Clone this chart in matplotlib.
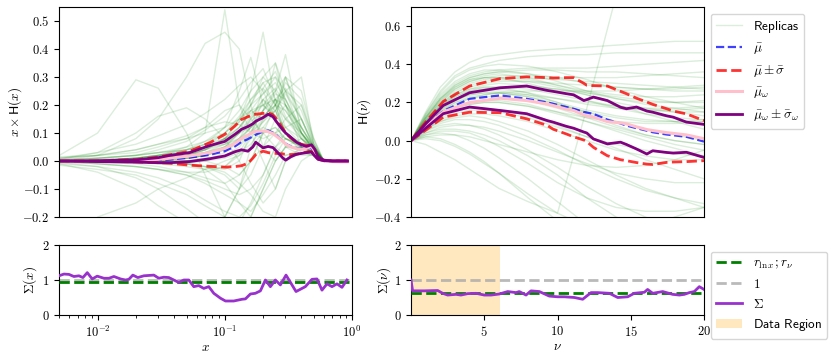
import numpy as np
import matplotlib
matplotlib.use("Agg")
import matplotlib.pyplot as plt
from matplotlib.ticker import FuncFormatter, FixedLocator, LogLocator, NullFormatter

plt.rcParams['mathtext.fontset'] = 'cm'
plt.rcParams['font.family'] = ['DejaVu Sans']

# ---------------- data: left panel (x space) ----------------
x_mean = [0.005, 0.01, 0.02, 0.03, 0.037, 0.053, 0.076, 0.1, 0.12, 0.135, 0.152, 0.166, 0.175,
          0.2, 0.219, 0.239, 0.255, 0.287, 0.301, 0.33, 0.366, 0.4, 0.438, 0.48, 0.509, 0.541,
          0.6, 0.7, 0.8, 0.92]
mu_x = [0, 0, 0.001, 0.003, 0.005, 0.012, 0.022, 0.035, 0.052, 0.068, 0.078, 0.088, 0.094,
        0.105, 0.109, 0.101, 0.092, 0.070, 0.062, 0.052, 0.046, 0.044, 0.046, 0.046, 0.030, 0.011,
        0.002, 0, 0, 0]
mu_plus_x = [0, 0.001, 0.005, 0.014, 0.022, 0.035, 0.065, 0.095, 0.125, 0.148, 0.158, 0.165, 0.167,
             0.170, 0.172, 0.165, 0.150, 0.115, 0.100, 0.082, 0.068, 0.060, 0.056, 0.055, 0.040, 0.014,
             0.003, 0, 0, 0]
mu_minus_x = [0, -0.001, -0.003, -0.006, -0.008, -0.015, -0.019, -0.022, -0.020, -0.017, -0.008, 0.010, 0.023,
              0.035, 0.030, 0.028, 0.027, 0.025, 0.024, 0.023, 0.024, 0.028, 0.032, 0.034, 0.020, 0.007,
              0.001, 0, 0, 0]
muw_x = [0, 0, 0.002, 0.006, 0.010, 0.018, 0.030, 0.045, 0.062, 0.080, 0.092, 0.103, 0.106,
         0.107, 0.105, 0.098, 0.088, 0.070, 0.060, 0.050, 0.044, 0.042, 0.045, 0.052, 0.035, 0.012,
         0.002, -0.002, -0.003, -0.003]
muw_plus_x = [0, 0.001, 0.004, 0.012, 0.020, 0.030, 0.055, 0.070, 0.095, 0.113, 0.123, 0.133, 0.142,
              0.155, 0.167, 0.158, 0.140, 0.110, 0.100, 0.085, 0.067, 0.058, 0.052, 0.058, 0.042, 0.015,
              0.003, 0, 0, 0]
muw_minus_x = [0, -0.002, -0.004, -0.006, -0.006, -0.002, 0.008, 0.018, 0.033, 0.040, 0.035, 0.050, 0.067,
               0.047, 0.052, 0.048, 0.035, 0.010, 0.003, 0.015, 0.024, 0.027, 0.030, 0.032, 0.018, 0.006,
               0.001, 0, 0, 0]

x_rep = [0.005, 0.01, 0.02, 0.03, 0.05, 0.07, 0.1, 0.13, 0.16, 0.2, 0.25, 0.3, 0.4, 0.5, 0.6, 0.92]
rep_x = [
    [0.02, 0.10, 0.29, 0.26, 0.10, -0.05, -0.20, -0.25, -0.2, -0.1, 0.0, 0.05, 0.05, 0.03, 0.0, 0.0],
    [0.0, 0.02, 0.08, 0.15, 0.30, 0.42, 0.46, 0.40, 0.20, 0.05, 0.0, 0.05, 0.05, 0.03, 0.0, 0.0],
    [0.0, 0.0, 0.01, 0.02, 0.05, 0.1, 0.54, 0.2, 0.1, 0.0, -0.1, 0.0, 0.05, 0.03, 0.0, 0.0],
    [0.0, 0.0, 0.005, 0.01, 0.02, 0.04, 0.08, 0.15, 0.25, 0.46, 0.2, 0.1, 0.05, 0.03, 0.0, 0.0],
    [0.0, 0.0, 0.0, 0.005, 0.01, 0.02, 0.04, 0.08, 0.12, 0.18, 0.25, 0.38, 0.1, 0.04, 0.0, 0.0],
    [0.0, 0.0, 0.0, 0.01, 0.03, 0.06, 0.12, 0.25, 0.37, 0.2, 0.15, 0.1, 0.06, 0.04, 0.0, 0.0],
    [0.005, 0.03, 0.10, 0.16, 0.19, 0.15, 0.08, 0.0, -0.08, -0.15, -0.1, 0.0, 0.03, 0.02, 0.0, 0.0],
    [-0.005, -0.02, -0.06, -0.10, -0.17, -0.22, -0.2, -0.1, 0.0, 0.1, 0.12, 0.08, 0.05, 0.03, 0.0, 0.0],
    [-0.01, -0.04, -0.10, -0.16, -0.22, -0.25, -0.2, -0.1, 0.05, 0.15, 0.18, 0.1, 0.05, 0.03, 0.0, 0.0],
    [0.01, 0.03, 0.06, 0.09, 0.13, 0.17, 0.22, 0.27, 0.3, 0.25, 0.15, 0.05, 0.02, 0.02, 0.0, 0.0],
    [0.0, 0.01, 0.02, 0.04, 0.07, 0.11, 0.16, 0.22, 0.28, 0.33, 0.22, 0.12, 0.06, 0.04, 0.0, 0.0],
    [0.0, 0.0, 0.01, 0.02, 0.04, 0.07, 0.12, 0.18, 0.25, 0.3, 0.35, 0.2, 0.08, 0.05, 0.0, 0.0],
    [0.0, -0.01, -0.02, -0.03, -0.05, -0.07, -0.1, -0.12, -0.1, -0.05, 0.05, 0.1, 0.06, 0.03, 0.0, 0.0],
    [0.0, 0.0, 0.0, 0.0, 0.01, 0.02, 0.05, 0.1, 0.15, 0.2, 0.25, 0.3, 0.15, 0.05, 0.0, 0.0],
    [0.0, -0.005, -0.01, -0.02, -0.04, -0.06, -0.08, -0.05, 0.0, 0.05, 0.1, 0.15, 0.08, 0.04, 0.0, 0.0],
    [0.015, 0.02, 0.03, 0.05, 0.08, 0.12, 0.18, 0.2, 0.15, 0.1, 0.05, 0.02, 0.03, 0.03, 0.0, 0.0],
    [-0.015, -0.03, -0.05, -0.08, -0.12, -0.16, -0.2, -0.22, -0.15, -0.05, 0.05, 0.08, 0.05, 0.03, 0.0, 0.0],
    [0.0, 0.0, 0.005, 0.01, 0.02, 0.03, 0.05, 0.08, 0.12, 0.16, 0.2, 0.25, 0.3, 0.06, 0.0, 0.0],
    [0.0, 0.0, -0.005, -0.01, -0.02, -0.03, -0.02, 0.02, 0.08, 0.14, 0.18, 0.1, 0.03, 0.02, 0.0, 0.0],
    [0.005, 0.01, 0.02, 0.03, 0.04, 0.05, 0.06, 0.08, 0.1, 0.12, 0.1, 0.08, 0.06, 0.04, 0.0, 0.0],
    [0.0, 0.005, 0.01, 0.02, 0.03, 0.04, 0.06, 0.1, 0.2, 0.28, 0.3, 0.2, 0.05, 0.03, 0.0, 0.0],
    [0.0, 0.0, 0.0, 0.0, -0.01, -0.02, -0.04, -0.08, -0.12, -0.18, -0.2, -0.1, 0.0, 0.03, 0.0, 0.0],
    [0.0, 0.0, 0.0, 0.01, 0.02, 0.04, 0.08, 0.12, 0.18, 0.24, 0.28, 0.22, 0.12, 0.05, 0.0, 0.0],
    [0.01, 0.02, 0.04, 0.06, 0.09, 0.12, 0.14, 0.13, 0.1, 0.08, 0.1, 0.12, 0.08, 0.04, 0.0, 0.0],
    [-0.005, -0.01, -0.02, -0.03, -0.05, -0.08, -0.12, -0.15, -0.18, -0.12, -0.05, 0.02, 0.04, 0.03, 0.0, 0.0],
    [0.0, 0.0, 0.0, 0.005, 0.01, 0.02, 0.04, 0.07, 0.1, 0.15, 0.22, 0.26, 0.18, 0.06, 0.0, 0.0],
    [0.0, 0.0, 0.01, 0.02, 0.03, 0.05, 0.1, 0.16, 0.22, 0.26, 0.2, 0.15, 0.1, 0.05, 0.0, 0.0],
    [-0.35, -0.2, -0.15, -0.1, -0.06, -0.03, 0.0, 0.02, 0.05, 0.1, 0.12, 0.08, 0.05, 0.03, 0.0, 0.0],
    [0.0, 0.0, 0.0, 0.0, 0.0, 0.01, 0.02, 0.05, 0.1, 0.18, 0.35, 0.25, 0.1, 0.05, 0.0, 0.0],
    [0.0, 0.0, 0.0, -0.005, -0.01, -0.02, -0.03, 0.0, 0.1, 0.22, 0.15, 0.3, 0.12, 0.04, 0.0, 0.0],
    [0.0, 0.0, 0.01, 0.02, 0.04, 0.06, 0.1, 0.15, 0.2, 0.24, 0.3, 0.25, 0.15, 0.05, 0.0, 0.0],
    [0.0, 0.0, 0.0, 0.01, 0.02, 0.03, 0.06, 0.1, 0.16, 0.22, 0.18, 0.25, 0.2, 0.06, 0.0, 0.0],
    [0.0, 0.005, 0.01, 0.02, 0.03, 0.05, 0.08, 0.12, 0.18, 0.15, 0.22, 0.18, 0.1, 0.04, 0.0, 0.0],
    [0.0, 0.0, 0.0, 0.0, 0.01, 0.02, 0.04, 0.06, 0.1, 0.14, 0.2, 0.28, 0.22, 0.07, 0.0, 0.0],
    [0.0, 0.01, 0.02, 0.03, 0.05, 0.07, 0.1, 0.14, 0.2, 0.3, 0.25, 0.16, 0.08, 0.04, 0.0, 0.0],
    [0.0, 0.0, -0.005, -0.01, -0.01, 0.0, 0.03, 0.08, 0.15, 0.22, 0.26, 0.2, 0.12, 0.05, 0.0, 0.0],
    [0.0, 0.0, 0.0, 0.005, 0.01, 0.02, 0.05, 0.1, 0.14, 0.18, 0.22, 0.15, 0.2, 0.08, 0.0, 0.0],
    [0.0, -0.01, -0.02, -0.03, -0.04, -0.04, -0.02, 0.03, 0.1, 0.18, 0.24, 0.22, 0.1, 0.04, 0.0, 0.0],
    [0.0, 0.0, 0.0, 0.01, 0.02, 0.04, 0.07, 0.12, 0.17, 0.2, 0.16, 0.12, 0.15, 0.06, 0.0, 0.0],
    [0.0, 0.0, 0.01, 0.01, 0.02, 0.03, 0.05, 0.07, 0.12, 0.26, 0.32, 0.22, 0.1, 0.04, 0.0, 0.0],
    [0.0, 0.0, 0.0, 0.0, 0.0, 0.0, 0.01, 0.03, 0.06, 0.12, 0.18, 0.24, 0.15, 0.05, 0.0, 0.0],
    [0.0, 0.0, 0.0, 0.0, -0.01, -0.02, -0.05, -0.1, -0.05, 0.05, 0.15, 0.2, 0.1, 0.04, 0.0, 0.0],
    [0.0, 0.0, 0.0, 0.0, -0.01, -0.03, -0.08, -0.15, -0.2, -0.1, 0.0, 0.05, 0.08, 0.03, 0.0, 0.0],
    [0.005, 0.01, 0.02, 0.03, 0.04, 0.06, 0.08, 0.1, 0.12, 0.16, 0.2, 0.18, 0.09, 0.04, 0.0, 0.0],
    [0.0, 0.0, 0.005, 0.01, 0.02, 0.04, 0.08, 0.14, 0.22, 0.28, 0.2, 0.1, 0.06, 0.04, 0.0, 0.0],
    [0.0, 0.0, 0.0, 0.0, 0.0, 0.0, -0.02, -0.05, 0.0, 0.1, 0.2, 0.3, 0.25, 0.08, 0.0, 0.0],
    [0.01, 0.02, 0.04, 0.06, 0.08, 0.1, 0.12, 0.15, 0.18, 0.2, 0.22, 0.2, 0.12, 0.05, 0.0, 0.0],
    [-0.01, -0.02, -0.04, -0.06, -0.1, -0.14, -0.18, -0.2, -0.16, -0.08, 0.02, 0.08, 0.06, 0.03, 0.0, 0.0],
]

# ---------------- data: right panel (nu space) ----------------
nu_mean = [0, 1, 2.2, 4.0, 6.1, 7.9, 9.3, 9.7, 10.6, 11.1, 11.8, 12.0, 12.45, 13.4, 14.3, 14.7,
           15.4, 16.1, 16.5, 17.45, 17.9, 18.8, 20]
mu_nu = [0, 0.075, 0.155, 0.219, 0.237, 0.219, 0.200, 0.193, 0.176, 0.167, 0.150, 0.147, 0.140,
         0.110, 0.090, 0.079, 0.065, 0.052, 0.044, 0.032, 0.028, 0.020, -0.005]
mu_plus_nu = [0, 0.097, 0.205, 0.286, 0.325, 0.334, 0.330, 0.328, 0.330, 0.330, 0.300, 0.290, 0.288,
              0.286, 0.258, 0.246, 0.222, 0.202, 0.190, 0.167, 0.155, 0.140, 0.105]
mu_minus_nu = [0, 0.055, 0.123, 0.149, 0.146, 0.114, 0.080, 0.060, 0.035, 0.020, 0.003, -0.005, -0.035,
               -0.079, -0.100, -0.105, -0.115, -0.123, -0.125, -0.114, -0.112, -0.110, -0.105]
muw_nu = [0, 0.072, 0.150, 0.200, 0.222, 0.210, 0.192, 0.184, 0.165, 0.158, 0.135, 0.130, 0.123,
          0.100, 0.093, 0.088, 0.072, 0.058, 0.053, 0.042, 0.038, 0.030, 0.010]
muw_plus_nu = [0, 0.088, 0.184, 0.251, 0.277, 0.286, 0.263, 0.258, 0.246, 0.240, 0.210, 0.215, 0.228,
               0.210, 0.175, 0.167, 0.176, 0.155, 0.149, 0.130, 0.123, 0.097, 0.085]
muw_minus_nu = [0, 0.065, 0.141, 0.176, 0.158, 0.141, 0.105, 0.097, 0.075, 0.065, 0.045, 0.040, 0.009,
                -0.017, -0.008, -0.020, -0.044, -0.070, -0.053, -0.062, -0.065, -0.061, -0.088]

nu_rep = [0, 1, 2, 3, 4, 5, 6, 8, 10, 12, 14, 16, 18, 20]
rep_nu = [
    [0, 0.15, 0.28, 0.36, 0.41, 0.44, 0.45, 0.47, 0.48, 0.49, 0.5, 0.51, 0.52, 0.52],
    [0, 0.14, 0.26, 0.34, 0.38, 0.40, 0.42, 0.44, 0.45, 0.45, 0.46, 0.46, 0.46, 0.46],
    [0, 0.12, 0.22, 0.29, 0.33, 0.35, 0.36, 0.37, 0.37, 0.36, 0.36, 0.35, 0.34, 0.33],
    [0, 0.11, 0.2, 0.26, 0.30, 0.32, 0.33, 0.33, 0.32, 0.31, 0.30, 0.29, 0.28, 0.27],
    [0, 0.1, 0.18, 0.24, 0.27, 0.29, 0.30, 0.29, 0.27, 0.24, 0.2, 0.17, 0.15, 0.13],
    [0, 0.09, 0.16, 0.21, 0.24, 0.25, 0.25, 0.23, 0.19, 0.15, 0.10, 0.06, 0.03, 0.0],
    [0, 0.08, 0.14, 0.18, 0.2, 0.21, 0.21, 0.19, 0.15, 0.1, 0.05, 0.0, -0.04, -0.08],
    [0, 0.07, 0.12, 0.15, 0.17, 0.17, 0.16, 0.13, 0.08, 0.02, -0.04, -0.1, -0.15, -0.2],
    [0, 0.06, 0.1, 0.12, 0.13, 0.12, 0.1, 0.05, -0.02, -0.1, -0.18, -0.25, -0.3, -0.35],
    [0, 0.05, 0.08, 0.09, 0.08, 0.06, 0.03, -0.05, -0.14, -0.24, -0.33, -0.4, -0.46, -0.5],
    [0, 0.03, 0.04, 0.03, 0.0, -0.04, -0.09, -0.2, -0.32, -0.44, -0.55, -0.6, -0.6, -0.6],
    [0, 0.02, 0.01, -0.02, -0.06, -0.11, -0.17, -0.3, -0.42, -0.5, -0.5, -0.5, -0.5, -0.5],
    [0, -0.02, -0.06, -0.1, -0.15, -0.2, -0.25, -0.32, -0.38, 0.17, 0.76, 1.3, 1.8, 2.3],
    [0, 0.13, 0.24, 0.31, 0.35, 0.37, 0.37, 0.35, 0.31, 0.26, 0.22, 0.19, 0.17, 0.15],
    [0, 0.1, 0.19, 0.25, 0.29, 0.31, 0.32, 0.31, 0.28, 0.24, 0.19, 0.14, 0.1, 0.06],
    [0, 0.09, 0.17, 0.22, 0.25, 0.26, 0.26, 0.24, 0.2, 0.16, 0.13, 0.11, 0.1, 0.1],
    [0, 0.11, 0.21, 0.28, 0.32, 0.34, 0.35, 0.33, 0.29, 0.25, 0.22, 0.2, 0.2, 0.21],
    [0, 0.08, 0.15, 0.2, 0.22, 0.23, 0.23, 0.21, 0.17, 0.12, 0.07, 0.03, 0.0, -0.02],
    [0, 0.06, 0.11, 0.14, 0.16, 0.16, 0.15, 0.12, 0.07, 0.02, -0.02, -0.05, -0.07, -0.08],
    [0, 0.04, 0.06, 0.06, 0.05, 0.03, 0.0, -0.08, -0.18, -0.3, -0.4, -0.48, -0.5, -0.5],
    [0, 0.02, 0.03, 0.03, 0.02, 0.0, -0.02, -0.06, -0.1, -0.13, -0.14, -0.13, -0.1, -0.05],
    [0, 0.12, 0.22, 0.29, 0.33, 0.35, 0.36, 0.35, 0.33, 0.3, 0.28, 0.27, 0.26, 0.26],
    [0, 0.14, 0.25, 0.33, 0.37, 0.39, 0.4, 0.39, 0.36, 0.32, 0.27, 0.23, 0.2, 0.17],
    [0, 0.07, 0.13, 0.17, 0.19, 0.2, 0.2, 0.18, 0.14, 0.1, 0.06, 0.02, -0.02, -0.05],
    [0, 0.05, 0.09, 0.11, 0.11, 0.1, 0.08, 0.02, -0.05, -0.13, -0.2, -0.26, -0.3, -0.33],
    [0, 0.01, 0.0, -0.03, -0.07, -0.12, -0.17, -0.28, -0.38, -0.45, -0.48, -0.45, -0.4, -0.35],
    [0, 0.1, 0.18, 0.23, 0.26, 0.27, 0.27, 0.25, 0.22, 0.19, 0.17, 0.16, 0.16, 0.17],
    [0, 0.09, 0.17, 0.22, 0.25, 0.27, 0.28, 0.28, 0.27, 0.25, 0.23, 0.21, 0.2, 0.2],
    [0, 0.13, 0.23, 0.3, 0.34, 0.36, 0.37, 0.38, 0.38, 0.38, 0.39, 0.4, 0.41, 0.42],
    [0, 0.12, 0.21, 0.27, 0.31, 0.33, 0.34, 0.34, 0.33, 0.33, 0.33, 0.34, 0.35, 0.36],
    [0, 0.1, 0.19, 0.25, 0.28, 0.3, 0.31, 0.31, 0.3, 0.29, 0.28, 0.27, 0.27, 0.28],
    [0, 0.11, 0.2, 0.27, 0.31, 0.33, 0.33, 0.32, 0.29, 0.26, 0.24, 0.23, 0.23, 0.24],
    [0, 0.09, 0.17, 0.23, 0.26, 0.28, 0.28, 0.27, 0.24, 0.21, 0.18, 0.16, 0.15, 0.15],
    [0, 0.08, 0.15, 0.2, 0.23, 0.24, 0.25, 0.24, 0.22, 0.2, 0.18, 0.17, 0.17, 0.18],
    [0, 0.07, 0.13, 0.17, 0.19, 0.2, 0.2, 0.18, 0.15, 0.12, 0.1, 0.09, 0.09, 0.1],
    [0, 0.06, 0.1, 0.13, 0.14, 0.14, 0.13, 0.1, 0.05, 0.0, -0.05, -0.08, -0.1, -0.1],
    [0, 0.04, 0.07, 0.08, 0.08, 0.07, 0.05, 0.0, -0.06, -0.12, -0.17, -0.2, -0.22, -0.22],
    [0, 0.1, 0.18, 0.24, 0.27, 0.28, 0.28, 0.25, 0.2, 0.14, 0.08, 0.03, 0.0, -0.02],
    [0, 0.12, 0.22, 0.28, 0.32, 0.33, 0.33, 0.3, 0.26, 0.21, 0.17, 0.14, 0.12, 0.11],
    [0, 0.03, 0.05, 0.05, 0.04, 0.01, -0.03, -0.12, -0.22, -0.3, -0.35, -0.37, -0.37, -0.35],
    [0, 0.08, 0.14, 0.19, 0.22, 0.24, 0.25, 0.26, 0.26, 0.26, 0.26, 0.27, 0.28, 0.29],
    [0, 0.09, 0.16, 0.21, 0.24, 0.25, 0.25, 0.23, 0.19, 0.15, 0.12, 0.1, 0.1, 0.11],
]

# ---------------- data: ratio panels ----------------
x_sig = [0.00497, 0.00544, 0.00595, 0.00651, 0.00713, 0.00766, 0.00829, 0.00907, 0.00993, 0.0112,
         0.01227, 0.01343, 0.01515, 0.01658, 0.0176, 0.01892, 0.0207, 0.0231, 0.02767, 0.03029,
         0.03316, 0.0363, 0.03973, 0.04349, 0.0476, 0.0521, 0.0570, 0.0624, 0.0683, 0.0748,
         0.0819, 0.0924, 0.1012, 0.1176, 0.1367, 0.1452, 0.1589, 0.1739, 0.1905, 0.2084,
         0.2282, 0.2498, 0.2734, 0.3029, 0.3630, 0.4297, 0.4846, 0.5306, 0.5808, 0.6357,
         0.6961, 0.7619, 0.8339, 0.9129]
sigma_x = [1.12, 1.17, 1.16, 1.10, 1.12, 1.07, 1.21, 1.03, 1.11, 1.05,
           1.05, 1.10, 1.03, 1.00, 1.02, 1.14, 1.07, 1.12, 1.14, 1.05,
           1.08, 1.07, 1.00, 0.93, 1.00, 1.00, 0.81, 0.84, 0.76, 0.81,
           0.62, 0.48, 0.40, 0.40, 0.45, 0.46, 0.60, 0.62, 0.69, 1.00,
           0.81, 1.00, 0.86, 1.14, 0.67, 0.81, 1.02, 1.03, 0.71, 0.89,
           0.81, 0.89, 0.79, 1.00]
r_lnx = 0.95

nu_sig = [0, 0.11, 0.91, 1.82, 2.16, 2.5, 3.07, 3.41, 3.87, 4.44, 5.0, 5.46, 6.03, 6.6, 7.17, 7.39,
          7.85, 8.19, 8.76, 9.44, 10.01, 10.47, 11.15, 11.72, 12.29, 12.74, 13.54, 14.11, 14.79,
          15.24, 15.93, 16.15, 16.5, 17.18, 17.86, 18.32, 18.66, 19.0, 19.34, 19.68, 20.0]
sigma_nu = [1.0, 0.69, 0.69, 0.70, 0.62, 0.57, 0.59, 0.57, 0.61, 0.62, 0.57, 0.57, 0.60, 0.67, 0.64, 0.67,
            0.57, 0.69, 0.67, 0.54, 0.52, 0.52, 0.50, 0.45, 0.64, 0.64, 0.62, 0.50, 0.52,
            0.62, 0.65, 0.73, 0.62, 0.67, 0.59, 0.57, 0.59, 0.64, 0.67, 0.81, 0.73]
r_nu = 0.62
data_region = (0, 6.05)

# ---------------- figure ----------------
W, H = 831, 359
fig = plt.figure(figsize=(W / 100, H / 100), dpi=100)

def rect(l, t, r, b):
    return [l / W, 1 - b / H, (r - l) / W, (b - t) / H]

ax_tl = fig.add_axes(rect(59, 7, 352, 217))
ax_tr = fig.add_axes(rect(411, 7, 704, 217))
ax_bl = fig.add_axes(rect(59, 245, 352, 315))
ax_br = fig.add_axes(rect(411, 245, 704, 315))

fmt1 = FuncFormatter(lambda v, p: r'$%.1f$' % v if abs(v) > 1e-9 else r'$0.0$')
fmt0 = FuncFormatter(lambda v, p: r'$%d$' % round(v))
logfmt = FuncFormatter(lambda v, p: r'$10^{%d}$' % round(np.log10(v)))

REP_ALPHA = 0.14
rep_kw = dict(color='green', alpha=REP_ALPHA, lw=1.0)
mu_kw = dict(color='blue', alpha=0.75, lw=1.6, ls='--')
sig_kw = dict(color='red', alpha=0.8, lw=2.0, ls='--')
muw_kw = dict(color='pink', lw=2.2)
sigw_kw = dict(color='purple', lw=2.0)

def draw_top(ax, xs, reps, xm, mu, mup, mum, muw, muwp, muwm):
    for i, r in enumerate(reps):
        ax.plot(xs, r, label=r'$\mathsf{Replicas}$' if i == 0 else None, **rep_kw)
    ax.plot(xm, mu, label=r'$\bar{\mu}$', **mu_kw)
    ax.plot(xm, mup, label=r'$\bar{\mu}\pm\bar{\sigma}$', **sig_kw)
    ax.plot(xm, mum, **sig_kw)
    ax.plot(xm, muw, label=r'$\bar{\mu}_\omega$', **muw_kw)
    ax.plot(xm, muwp, label=r'$\bar{\mu}_\omega\pm\bar{\sigma}_\omega$', **sigw_kw)
    ax.plot(xm, muwm, **sigw_kw)

draw_top(ax_tl, x_rep, rep_x, x_mean, mu_x, mu_plus_x, mu_minus_x, muw_x, muw_plus_x, muw_minus_x)
ax_tl.set_xscale('log')
ax_tl.set_xlim(0.00497, 1.0)
ax_tl.set_ylim(-0.2, 0.55)
ax_tl.yaxis.set_major_locator(FixedLocator([-0.2, -0.1, 0, 0.1, 0.2, 0.3, 0.4, 0.5]))
ax_tl.yaxis.set_major_formatter(fmt1)
ax_tl.tick_params(axis='x', which='both', bottom=False, labelbottom=False)
ax_tl.set_ylabel(r'$x\times\mathsf{H}(x)$', fontsize=9.5)
ax_tl.yaxis.set_label_coords(-0.12, 0.5)

draw_top(ax_tr, nu_rep, rep_nu, nu_mean, mu_nu, mu_plus_nu, mu_minus_nu, muw_nu, muw_plus_nu, muw_minus_nu)
ax_tr.set_xlim(0, 20)
ax_tr.set_ylim(-0.4, 0.7)
ax_tr.yaxis.set_major_locator(FixedLocator([-0.4, -0.2, 0, 0.2, 0.4, 0.6]))
ax_tr.yaxis.set_major_formatter(fmt1)
ax_tr.tick_params(axis='x', which='both', bottom=False, labelbottom=False)
ax_tr.set_ylabel(r'$\mathsf{H}(\nu)$', fontsize=9.5)
ax_tr.yaxis.set_label_coords(-0.13, 0.5)
leg = ax_tr.legend(loc='upper left', bbox_to_anchor=(1.0, 1.0), fontsize=9.5, handlelength=2.0)
for lh in leg.get_lines():
    if lh.get_label() == r'$\mathsf{Replicas}$':
        lh.set_alpha(REP_ALPHA)

# bottom left
ax_bl.plot([0.00497, 1.0], [r_lnx, r_lnx], color='green', ls='--', lw=2, zorder=3)
ax_bl.plot([0.00497, 1.0], [1, 1], color='darkgray', ls='--', lw=2, alpha=0.8, zorder=2)
ax_bl.plot(x_sig, sigma_x, color='darkorchid', lw=2, zorder=4)
ax_bl.set_xscale('log')
ax_bl.set_xlim(0.00497, 1.0)
ax_bl.set_ylim(0, 2)
ax_bl.yaxis.set_major_locator(FixedLocator([0, 1, 2]))
ax_bl.yaxis.set_major_formatter(fmt0)
ax_bl.xaxis.set_major_locator(FixedLocator([0.01, 0.1, 1.0]))
ax_bl.xaxis.set_major_formatter(logfmt)
ax_bl.xaxis.set_minor_locator(LogLocator(base=10, subs=np.arange(2, 10), numticks=20))
ax_bl.xaxis.set_minor_formatter(NullFormatter())
ax_bl.set_ylabel(r'$\Sigma(x)$', fontsize=9.5)
ax_bl.yaxis.set_label_coords(-0.068, 0.5)
ax_bl.set_xlabel(r'$x$', fontsize=9.5, labelpad=1)

# bottom right
ax_br.axvspan(data_region[0], data_region[1], color='orange', alpha=0.25, lw=0,
              label=r'$\mathsf{Data\ Region}$', zorder=1)
ax_br.plot([0, 20], [r_nu, r_nu], color='green', ls='--', lw=2, zorder=3, label=r'$r_{\ln x}; r_\nu$')
ax_br.plot([0, 20], [1, 1], color='darkgray', ls='--', lw=2, alpha=0.8, zorder=2, label=r'$1$')
ax_br.plot(nu_sig, sigma_nu, color='darkorchid', lw=2, zorder=4, label=r'$\Sigma$')
ax_br.set_xlim(0, 20)
ax_br.set_ylim(0, 2)
ax_br.yaxis.set_major_locator(FixedLocator([0, 1, 2]))
ax_br.yaxis.set_major_formatter(fmt0)
ax_br.xaxis.set_major_locator(FixedLocator([5, 10, 15, 20]))
ax_br.xaxis.set_major_formatter(fmt0)
ax_br.set_ylabel(r'$\Sigma(\nu)$', fontsize=9.5)
ax_br.yaxis.set_label_coords(-0.062, 0.5)
ax_br.set_xlabel(r'$\nu$', fontsize=9.5, labelpad=1)
h, l = ax_br.get_legend_handles_labels()
order = [l.index(r'$r_{\ln x}; r_\nu$'), l.index(r'$1$'), l.index(r'$\Sigma$'),
         l.index(r'$\mathsf{Data\ Region}$')]
ax_br.legend([h[i] for i in order], [l[i] for i in order], loc='upper left',
             bbox_to_anchor=(1.0, 1.0), fontsize=9.5, handlelength=2.0)

for ax in (ax_tl, ax_tr, ax_bl, ax_br):
    ax.tick_params(labelsize=9)

fig.savefig('out.png', dpi=100)
